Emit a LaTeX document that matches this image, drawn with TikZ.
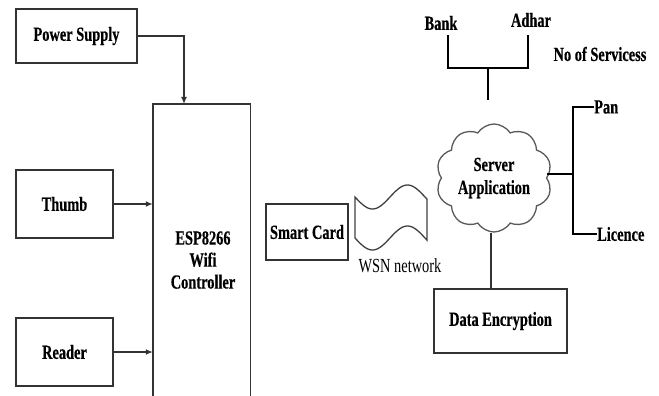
\documentclass[tikz,border=0pt]{standalone}
\usepackage{fontspec}
\setmainfont{Liberation Serif}
\newfontfamily\condfont[FakeStretch=0.72, BoldFeatures={FakeBold=0.4}]{Liberation Serif}
\usetikzlibrary{shapes.symbols,arrows.meta}
\tikzset{
  lbl/.style={font=\condfont\bfseries\fontsize{20}{23}\selectfont, align=center, inner sep=0pt},
  box/.style={draw=black!80, line width=1.6pt, rectangle, lbl},
  conn/.style={draw=black!80, line width=1.4pt},
  arr/.style={conn, -{Latex[length=7pt,width=6pt]}},
  brk/.style={draw=black, line width=2.6pt},
}
\begin{document}
\begin{tikzpicture}[x=1pt,y=-1pt]
\useasboundingbox (0,0) rectangle (659,396);
% left blocks
\node[box, minimum width=121pt, minimum height=54pt] (ps) at (76.5,36) {Power Supply};
\node[box, minimum width=97pt, minimum height=68pt] (thumb) at (64.5,204) {Thumb};
\node[box, minimum width=97pt, minimum height=68pt] (reader) at (64.5,352) {Reader};
% ESP controller (open at bottom)
\node[minimum width=97pt, minimum height=292pt, inner sep=0pt] (esp) at (201.5,250) {};
\draw[conn] (esp.south west) |- (esp.north east) -- (esp.south east);
\node[lbl] (esptxt) at (203,260) {ESP8266\\[-1pt]Wifi\\[-1pt]Controller};
% arrows
\coordinate (psdrop) at (184,104);
\draw[arr] (ps.east) -| (psdrop);
\draw[arr] (thumb.east) -- (thumb.east -| esp.west);
\draw[arr] (reader.east) -- (reader.east -| esp.west);
% smart card
\node[box, minimum width=82pt, minimum height=56pt] (sc) at (307,232) {Smart Card};
% WSN wave shape
\draw[draw=black!75, line width=1.3pt]
  plot[domain=355:427, smooth, samples=40] (\x, {197+12*sin((\x-355)*5.142857)})
  -- plot[domain=427:355, smooth, samples=40] (\x, {238+12*sin((\x-355)*5.142857)})
  -- cycle;
\node[font=\condfont\fontsize{20}{23}\selectfont, inner sep=0pt] (wsn) at (400,266) {WSN network};
% server cloud
\node[cloud, cloud puffs=10, cloud puff arc=115, aspect=1.15, draw=black!65, line width=1.3pt,
      minimum width=116pt, minimum height=108pt, lbl] (srv) at (494,178) {Server\\Application};
% data encryption
\node[box, minimum width=133pt, minimum height=64pt] (de) at (500.5,321) {Data Encryption};
\draw[conn] ([xshift=-9.5pt]de.north) -- ([xshift=-9.5pt]de.north |- srv.south);
% top services
\node[lbl] (bank) at (441,23) {Bank};
\node[lbl] (adhar) at (531,20) {Adhar};
\node[lbl] (nos) at (600,54) {No of Servicess};
\coordinate (bl) at (448,35);
\coordinate (br) at (528,35);
\coordinate (bm) at (488,68);
\coordinate (bs) at (488,100);
\draw[brk] (bl) |- (br |- bm) -- (br);
\draw[brk, line width=2.2pt] (bm) -- (bs);
% right services
\node[lbl, anchor=west] (pan) at (594,107) {Pan};
\node[lbl, anchor=west] (lic) at (597,234) {Licence};
\coordinate (rm) at (573,174);
\draw[brk] (srv.east |- rm) -- (rm);
\draw[brk] (pan.west) -| (rm) |- (lic.west);
\end{tikzpicture}
\end{document}
